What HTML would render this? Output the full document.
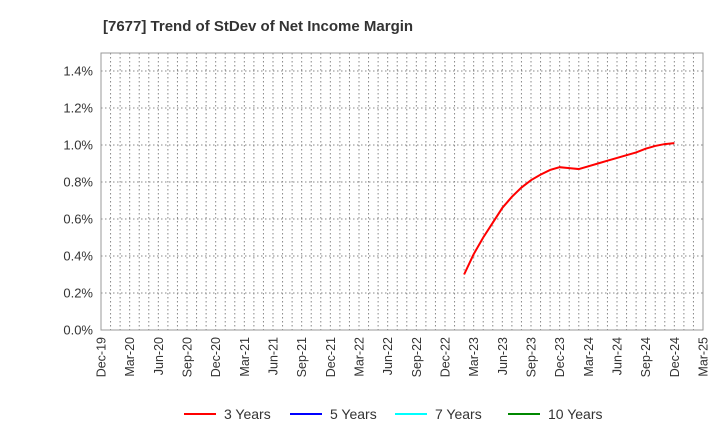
<!DOCTYPE html>
<html><head><meta charset="utf-8"><style>
body{margin:0;background:#fff;font-family:"Liberation Sans",sans-serif;}
</style></head><body>
<svg width="720" height="440" xmlns="http://www.w3.org/2000/svg" font-family="Liberation Sans, sans-serif">
<text x="103" y="31" font-size="15" font-weight="bold" fill="#333">[7677]  Trend of StDev of Net Income Margin</text>
<g id="grid"></g>
<rect x="101" y="53" width="602" height="277" fill="none" stroke="#999"/>
<g id="axes"></g>
<g id="series"></g>
<g id="legend"></g>
</svg>
<script>
const xTickLabels=["Dec-19","Mar-20","Jun-20","Sep-20","Dec-20","Mar-21","Jun-21","Sep-21","Dec-21","Mar-22","Jun-22","Sep-22","Dec-22","Mar-23","Jun-23","Sep-23","Dec-23","Mar-24","Jun-24","Sep-24","Dec-24","Mar-25"];
const yTicks=[0,0.2,0.4,0.6,0.8,1.0,1.2,1.4];
const startMonth=38; // Feb-23, months since Dec-19
const series3=[0.30,0.41,0.50,0.58,0.66,0.72,0.77,0.81,0.84,0.865,0.88,0.875,0.87,0.885,0.90,0.915,0.93,0.945,0.96,0.98,0.995,1.005,1.01];
const legendNames=["3 Years","5 Years","7 Years","10 Years"];
const legendColors=["#f00","#00f","#0ff","#080"];
const ns="http://www.w3.org/2000/svg";
const X0=101,X1=703,Y0=330,TOTAL=63;
const xs=m=>X0+(X1-X0)*m/TOTAL;
const ys=v=>Y0-v*185;
function mk(t,a,p){const e=document.createElementNS(ns,t);for(const k in a)e.setAttribute(k,a[k]);p.appendChild(e);return e;}
const grid=document.getElementById('grid'),axes=document.getElementById('axes');
for(let m=1;m<TOTAL;m++){const l=mk('line',{x1:xs(m),x2:xs(m),y1:53,y2:330,stroke:'#888','stroke-dasharray':'1.5,2.5','stroke-width':1},grid);

}
yTicks.forEach(v=>{if(v===0)return;const l=mk('line',{x1:X0,x2:X1,y1:ys(v),y2:ys(v),stroke:'#888','stroke-dasharray':'1.5,2.5','stroke-width':1},grid);

});
yTicks.forEach(v=>{const t=mk('text',{x:93,y:ys(v)+4.5,'text-anchor':'end','font-size':13,fill:'#333'},axes);t.textContent=v.toFixed(1)+'%';

});
xTickLabels.forEach((s,i)=>{const x=xs(i*3);const t=mk('text',{x:x+4.5,y:337,'text-anchor':'end','font-size':12.5,fill:'#333',transform:`rotate(-90 ${x+4.5} 337)`},axes);t.textContent=s;

});
const pts=series3.map((v,i)=>xs(startMonth+i)+','+ys(v)).join(' ');
const pl=mk('polyline',{points:pts,fill:'none',stroke:'#f00','stroke-width':2},document.getElementById('series'));


const lg=document.getElementById('legend');const lx=[184,290,395,508];
legendNames.forEach((n,i)=>{const g=mk('g',{},lg);


mk('line',{x1:lx[i],x2:lx[i]+32,y1:414,y2:414,stroke:legendColors[i],'stroke-width':2},g);
const t=mk('text',{x:lx[i]+40,y:419,'font-size':14,fill:'#333'},g);t.textContent=n;});
</script>
</body></html>
